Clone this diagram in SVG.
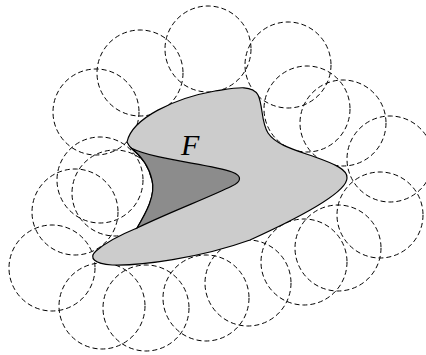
<svg xmlns="http://www.w3.org/2000/svg" width="426" height="355" viewBox="0 0 426 355">
<style>
.c{fill:none;stroke:#000;stroke-width:1;stroke-dasharray:5 3}
.lt{fill:#cccccc;stroke:#000;stroke-width:1.2}
.dk{fill:#8c8c8c;stroke:#000;stroke-width:1.2}
.lbl{font-family:"Liberation Serif",serif;font-style:italic;font-size:30px;fill:#000}
</style>
<rect width="426" height="355" fill="#fff"/>
<g id="cover">
<circle class="c" cx="208" cy="49" r="43"/>
<circle class="c" cx="140" cy="73" r="43"/>
<circle class="c" cx="96" cy="112" r="43"/>
<circle class="c" cx="288" cy="65" r="43"/>
<circle class="c" cx="307" cy="109" r="43"/>
<circle class="c" cx="343" cy="123" r="43"/>
<circle class="c" cx="390" cy="159" r="43"/>
<circle class="c" cx="380" cy="215" r="43"/>
<circle class="c" cx="338" cy="248" r="43"/>
<circle class="c" cx="304" cy="262" r="43"/>
<circle class="c" cx="248" cy="283" r="43"/>
<circle class="c" cx="206" cy="298" r="43"/>
<circle class="c" cx="146" cy="308" r="43"/>
<circle class="c" cx="102" cy="306" r="43"/>
<circle class="c" cx="52" cy="268" r="43"/>
<circle class="c" cx="75" cy="212" r="43"/>
<circle class="c" cx="100" cy="180" r="43"/>
<circle class="c" cx="115" cy="193" r="43"/>
</g>
<g id="shape">
<path class="lt" d="M127,142 C132,118 175,98 215,91 C235,88 252,84 258,95 C263,105 261,122 268,133 C276,145 295,150 315,157 C335,164 348,170 347,178 C347,192 305,215 250,240 C200,258 140,266 112,265 C95,264 88,258 96,251 C105,243 120,235 137,228 C146,213 156,195 152,180 C149,166 140,155 131,148 C129,146 128,144 127,142 Z"/>
<path class="dk" d="M131,148 C155,160 210,164 232,172 C243,176 241,182 232,186 C210,197 170,212 137,228 C146,213 156,195 152,180 C149,166 140,155 131,148 Z"/>
</g>
<text class="lbl" x="181" y="155">F</text>
</svg>
